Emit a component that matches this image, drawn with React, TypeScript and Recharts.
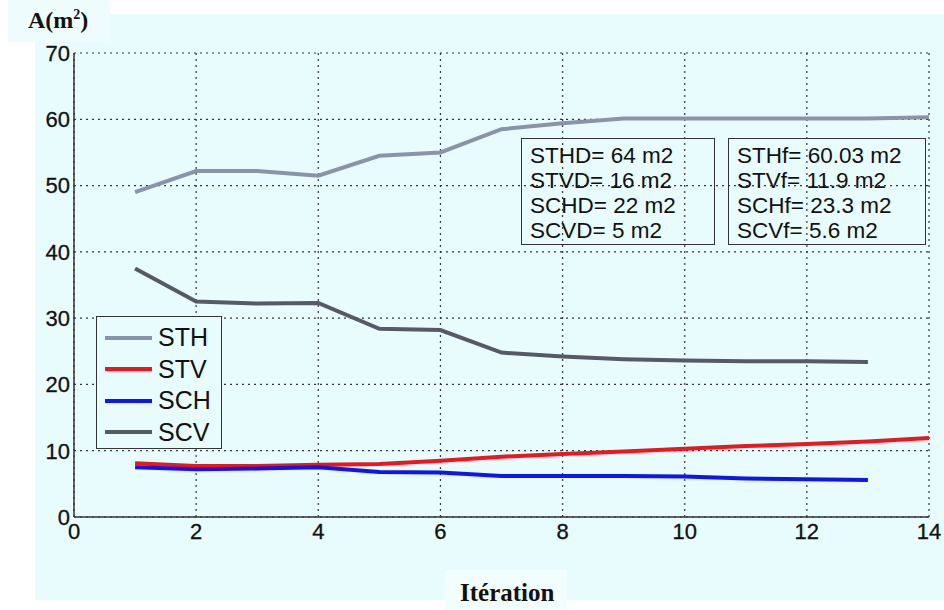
import { LineChart, Line, XAxis, YAxis, CartesianGrid } from 'recharts'

const iterations = [1, 2, 3, 4, 5, 6, 7, 8, 9, 10, 11, 12, 13, 14]
const sth = [49.0, 52.2, 52.2, 51.5, 54.5, 55.0, 58.5, 59.4, 60.1, 60.1, 60.1, 60.1, 60.1, 60.3]
const stv = [8.1, 7.7, 7.7, 7.9, 8.0, 8.5, 9.1, 9.5, 9.9, 10.3, 10.7, 11.0, 11.4, 11.9]
const sch = [7.5, 7.2, 7.3, 7.5, 6.8, 6.7, 6.2, 6.2, 6.2, 6.1, 5.8, 5.7, 5.6, null]
const scv = [37.5, 32.5, 32.2, 32.3, 28.4, 28.2, 24.8, 24.2, 23.8, 23.6, 23.5, 23.5, 23.4, null]

const xTicks = [0, 2, 4, 6, 8, 10, 12, 14]
const yTicks = [0, 10, 20, 30, 40, 50, 60, 70]

const designLabels = ['STHD= 64 m2', 'STVD= 16 m2', 'SCHD= 22 m2', 'SCVD= 5 m2']
const finalLabels = ['STHf= 60.03 m2', 'STVf= 11.9 m2', 'SCHf= 23.3 m2', 'SCVf= 5.6 m2']

const series = [
  { key: 'STH', color: '#8a93a8' },
  { key: 'STV', color: '#f2131c' },
  { key: 'SCH', color: '#0b16f2' },
  { key: 'SCV', color: '#555a66' },
]

const data = iterations.map((it, i) => ({
  it,
  STH: sth[i],
  STV: stv[i],
  SCH: sch[i],
  SCV: scv[i],
}))

const sans = '"Liberation Sans", Arial, sans-serif'
const serif = '"Liberation Serif", "Times New Roman", serif'
const tickStyle = { fontSize: 22, fill: '#111', fontFamily: sans, stroke: '#111', strokeWidth: 0.3 }

// legend drawn as an overlay so it doesn't eat into the plot area
function LegendBox() {
  return (
    <div style={{ position: 'absolute', left: 96, top: 316, width: 126, height: 133, border: '1px solid #333', background: '#e8fcfe', boxSizing: 'border-box', padding: '5px 0 0 8px' }}>
      {series.map((s) => (
        <div key={s.key} style={{ display: 'flex', alignItems: 'center', height: 31.5 }}>
          <span style={{ width: 47, height: 4, background: s.color, display: 'inline-block' }}></span>
          <span style={{ marginLeft: 6, fontFamily: sans, fontSize: 25, color: '#111' }}>{s.key}</span>
        </div>
      ))}
    </div>
  )
}

function InfoBox({ lines, left, width }: { lines: string[]; left: number; width: number }) {
  return (
    <div style={{ position: 'absolute', left, top: 138, width, height: 107, border: '1px solid #333', boxSizing: 'border-box', padding: '4px 0 0 8px' }}>
      {lines.map((l) => (
        <div key={l} style={{ fontFamily: sans, fontSize: 22.5, lineHeight: '25px', color: '#111', whiteSpace: 'nowrap' }}>{l}</div>
      ))}
    </div>
  )
}

export default function App() {
  return (
    <div style={{ position: 'absolute', left: 0, top: 0, width: 944, height: 610, background: '#ffffff', overflow: 'hidden' }}>
      <div style={{ position: 'absolute', left: 35, top: 14, width: 909, height: 586, background: '#e8fcfe' }}></div>
      <div style={{ position: 'absolute', left: 8, top: 0, width: 102, height: 42, background: '#effcfd' }}></div>
      <div style={{ position: 'absolute', left: 28, top: 7, fontFamily: serif, fontWeight: 700, fontSize: 24, color: '#111' }}>
        A(m<sup style={{ fontSize: 14 }}>2</sup>)
      </div>
      <div style={{ position: 'absolute', left: 0, top: 0 }}>
        <LineChart width={944} height={610} data={data} margin={{ top: 53, right: 15, left: 0, bottom: 63 }}>
          <CartesianGrid stroke="#333" strokeDasharray="2 4" strokeWidth={1.2} />
          <XAxis
            dataKey="it"
            type="number"
            domain={[0, 14]}
            ticks={xTicks}
            height={30}
            tickLine={false}
            tickSize={4}
            tickMargin={2}
            axisLine={{ stroke: '#333', strokeWidth: 1.5 }}
            tick={tickStyle}
          />
          <YAxis
            type="number"
            domain={[0, 70]}
            ticks={yTicks}
            width={74}
            tickLine={false}
            tickSize={4}
            tickMargin={0}
            axisLine={{ stroke: '#333', strokeWidth: 1.5 }}
            tick={tickStyle}
          />
          {series.map((s) => (
            <Line key={s.key} type="linear" dataKey={s.key} stroke={s.color} strokeWidth={4} dot={false} connectNulls={false} isAnimationActive={false} />
          ))}
        </LineChart>
      </div>
      <LegendBox />
      <InfoBox lines={designLabels} left={521} width={194} />
      <InfoBox lines={finalLabels} left={728} width={198} />
      <div style={{ position: 'absolute', left: 445, top: 570, width: 122, height: 40, background: '#f2fdfe' }}></div>
      <div style={{ position: 'absolute', left: 460, top: 579, fontFamily: serif, fontWeight: 700, fontSize: 25, color: '#111' }}>Itération</div>
    </div>
  )
}
